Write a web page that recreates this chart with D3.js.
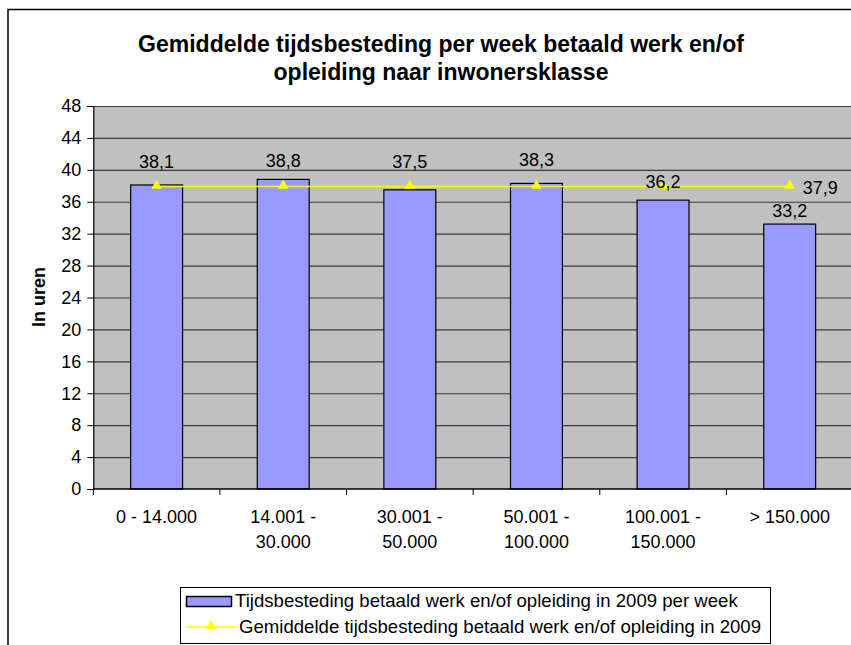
<!DOCTYPE html>
<html><head><meta charset="utf-8">
<script src="https://cdn.jsdelivr.net/npm/d3@7"></script>
<style>body{margin:0;background:#fff}svg{display:block;font-family:Arial,"Liberation Sans",sans-serif}</style>
</head><body><svg id="c" width="851" height="645"></svg>
<script>
const categories = [["0 - 14.000"], ["14.001 -", "30.000"], ["30.001 -", "50.000"], ["50.001 -", "100.000"], ["100.001 -", "150.000"], ["> 150.000"]];
const barValues = [38.1, 38.8, 37.5, 38.3, 36.2, 33.2];
const avgValues = [37.9, 37.9, 37.9, 37.9, 37.9, 37.9];
const yTicks = [0, 4, 8, 12, 16, 20, 24, 28, 32, 36, 40, 44, 48];
const titleLines = ["Gemiddelde tijdsbesteding per week betaald werk en/of", "opleiding naar inwonersklasse"];
const yTitle = "In uren";
const legendLabels = ["Tijdsbesteding betaald werk en/of opleiding in 2009 per week", "Gemiddelde tijdsbesteding betaald werk en/of opleiding in 2009"];
const barLabelLift = [17, 12, 22, 17, 12, 7];

const svg = d3.select("#c");
const fmt = v => d3.format(".1f")(v).replace(".", ",");
const keys = categories.map((c, i) => "c" + i);
const FS = 18;

// outer chart border (cropped at right/bottom)
svg.append("rect").attr("x", 8).attr("y", 9.5).attr("width", 900).attr("height", 700)
  .attr("fill", "#fff").attr("stroke", "#000").attr("stroke-width", 1.5);

const pLeft = 93.3, pTop = 106, pBottom = 489, pRight = 853;
const x = d3.scaleBand().domain(keys).range([pLeft, pRight]).paddingInner(0.59).paddingOuter(0.295);
const y = d3.scaleLinear().domain([0, 48]).range([pBottom, pTop]);
const step = x.step();

svg.append("rect").attr("x", pLeft).attr("y", pTop).attr("width", pRight - pLeft).attr("height", pBottom - pTop).attr("fill", "#C0C0C0");

// gridlines
svg.append("g").selectAll("line").data(yTicks.filter(t => t > 0)).join("line")
  .attr("x1", pLeft).attr("x2", pRight).attr("y1", d => y(d) + 0.5).attr("y2", d => y(d) + 0.5)
  .attr("stroke", "#3a3a3a").attr("stroke-width", 1.2);

// y axis
const yAxis = svg.append("g").attr("transform", `translate(${pLeft},0)`)
  .call(d3.axisLeft(y).tickValues(yTicks).tickSize(6).tickPadding(6));
yAxis.select(".domain").attr("stroke", "#000").attr("stroke-width", 1.2);
yAxis.selectAll(".tick line").attr("stroke", "#000");
yAxis.selectAll("text").attr("font-size", FS).attr("fill", "#000").attr("font-family", "Arial, 'Liberation Sans', sans-serif");

// bars
svg.append("g").selectAll("rect").data(barValues).join("rect")
  .attr("x", (d, i) => x(keys[i])).attr("width", x.bandwidth())
  .attr("y", d => y(d)).attr("height", d => y(0) - y(d))
  .attr("fill", "#9999FF").attr("stroke", "#000").attr("stroke-width", 1.2);

// x axis
svg.append("line").attr("x1", pLeft).attr("x2", pRight).attr("y1", pBottom).attr("y2", pBottom).attr("stroke", "#000").attr("stroke-width", 1.5);
svg.append("g").selectAll("line").data(d3.range(categories.length + 1)).join("line")
  .attr("x1", i => pLeft + i * step).attr("x2", i => pLeft + i * step)
  .attr("y1", pBottom).attr("y2", pBottom + 6).attr("stroke", "#000");
const xl = svg.append("g").selectAll("text").data(categories).join("text")
  .attr("x", (d, i) => x(keys[i]) + x.bandwidth() / 2).attr("y", 523)
  .attr("text-anchor", "middle").attr("font-size", FS).attr("fill", "#000");
xl.selectAll("tspan").data(d => d).join("tspan")
  .attr("x", function () { return this.parentNode.getAttribute("x"); })
  .attr("dy", (d, i) => i === 0 ? 0 : 25).text(d => d);

// average line
const cx = i => x(keys[i]) + x.bandwidth() / 2;
svg.append("path").datum(avgValues)
  .attr("d", d3.line().x((d, i) => cx(i)).y(d => y(d)))
  .attr("fill", "none").attr("stroke", "#FFFF00").attr("stroke-width", 1.5);
const tri = d3.symbol().type(d3.symbolTriangle).size(48);
svg.append("g").selectAll("path").data(avgValues).join("path")
  .attr("d", tri).attr("transform", (d, i) => `translate(${cx(i)},${y(d) - 1})`).attr("fill", "#FFFF00");

// bar labels
svg.append("g").selectAll("text").data(barValues).join("text")
  .attr("x", (d, i) => cx(i)).attr("y", (d, i) => y(d) - barLabelLift[i])
  .attr("text-anchor", "middle").attr("font-size", FS).attr("fill", "#000").text(fmt);
// avg label on last point
const last = avgValues.length - 1;
svg.append("text").attr("x", cx(last) + 13).attr("y", y(avgValues[last]) + 7)
  .attr("font-size", FS).attr("fill", "#000").text(fmt(avgValues[last]));

// title
svg.append("g").selectAll("text").data(titleLines).join("text")
  .attr("x", 441).attr("y", (d, i) => 52 + i * 28).attr("text-anchor", "middle")
  .attr("font-size", 23).attr("font-weight", "bold").attr("fill", "#000").text(d => d);

// y title
svg.append("text").attr("transform", "translate(45,297) rotate(-90)").attr("text-anchor", "middle")
  .attr("font-size", 18).attr("font-weight", "bold").attr("fill", "#000").text(yTitle);

// legend
const lg = svg.append("g");
lg.append("rect").attr("x", 180.5).attr("y", 587.5).attr("width", 590).attr("height", 56)
  .attr("fill", "#fff").attr("stroke", "#000").attr("stroke-width", 1);
lg.append("rect").attr("x", 186.5).attr("y", 596.5).attr("width", 45).attr("height", 10)
  .attr("fill", "#9999FF").attr("stroke", "#000").attr("stroke-width", 1.5);
lg.append("line").attr("x1", 186).attr("x2", 237).attr("y1", 627).attr("y2", 627).attr("stroke", "#FFFF00").attr("stroke-width", 1.5);
lg.append("path").attr("d", tri).attr("transform", "translate(211,626)").attr("fill", "#FFFF00");
lg.selectAll("text.l").data(legendLabels).join("text").attr("class", "l")
  .attr("x", (d, i) => i === 0 ? 235 : 239).attr("y", (d, i) => 607 + i * 26)
  .attr("font-size", 18.6).attr("fill", "#000").text(d => d);
</script></body></html>
